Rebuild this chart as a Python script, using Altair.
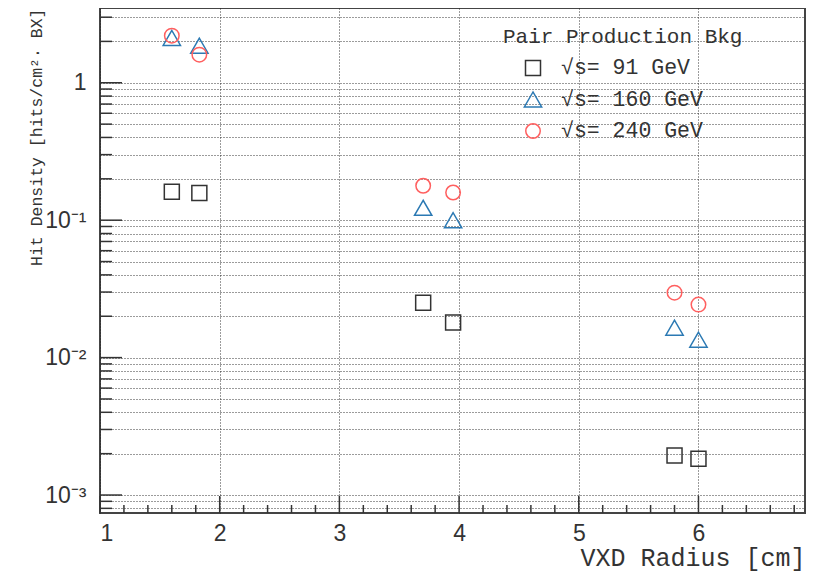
import altair as alt
import pandas as pd

# ---- data ----
radius_cm = [1.6, 1.83, 3.7, 3.95, 5.8, 6.0]
density_91 = [0.161, 0.158, 0.0251, 0.0180, 0.00194, 0.00184]
density_160 = [2.12, 1.86, 0.123, 0.100, 0.0165, 0.0135]
density_240 = [2.20, 1.60, 0.178, 0.159, 0.0297, 0.0243]

series_labels = ["√s= 91 GeV", "√s= 160 GeV", "√s= 240 GeV"]
series_values = [density_91, density_160, density_240]
series_shapes = ["square", "triangle-up", "circle"]
series_colors = ["#333333", "#2b79b3", "#ff5f5f"]
series_sizes = [225, 300, 210]
legend_title = "Pair Production Bkg"

x_title = "VXD Radius [cm]"
y_title = "Hit Density [hits/cm²· BX]"

x_major = [1, 2, 3, 4, 5, 6]
x_minor = [1.2, 1.4, 1.6, 1.8, 2.2, 2.4, 2.6, 2.8, 3.2, 3.4, 3.6, 3.8,
           4.2, 4.4, 4.6, 4.8, 5.2, 5.4, 5.6, 5.8, 6.2, 6.4, 6.6, 6.8]
y_major = [0.001, 0.01, 0.1, 1]
y_minor = [0.0008, 0.0009,
           0.002, 0.003, 0.004, 0.005, 0.006, 0.007, 0.008, 0.009,
           0.02, 0.03, 0.04, 0.05, 0.06, 0.07, 0.08, 0.09,
           0.2, 0.3, 0.4, 0.5, 0.6, 0.7, 0.8, 0.9,
           2, 3]

W, H = 705, 505
xs = alt.Scale(domain=[1, 6.89], nice=False, zero=False)
ys = alt.Scale(type="log", domain=[0.00074, 3.5], nice=False)

GRID = dict(grid=True, gridDash=[1, 2], gridColor="#222222", gridWidth=1, gridOpacity=0.9)

x_axis = alt.Axis(values=x_major, ticks=False, domain=False, format="d",
                  labelFont="Liberation Sans", labelFontSize=23, labelColor="#333333",
                  labelPadding=9,
                  title=x_title, titleFont="Liberation Mono", titleFontSize=25,
                  titleFontWeight="normal", titleColor="#333333",
                  titleAlign="right", titleBaseline="alphabetic",
                  titleX=W, titleY=52, **GRID)

label_expr = ("abs(datum.value-1)<1e-9 ? '1' : abs(datum.value-0.1)<1e-10 ? '10⁻¹' : "
              "abs(datum.value-0.01)<1e-11 ? '10⁻²' : abs(datum.value-0.001)<1e-12 ? '10⁻³' : ''")
y_axis = alt.Axis(values=y_major + y_minor, ticks=False, domain=False,
                  labelExpr=label_expr, labelOverlap=False,
                  labelFont="Liberation Sans", labelFontSize=23, labelColor="#333333",
                  labelPadding=14, labelBaseline="middle",
                  title=y_title, titleFont="Liberation Mono", titleFontSize=16.5,
                  titleFontWeight="normal", titleColor="#333333",
                  titleAngle=270, titleAlign="right", titleBaseline="middle",
                  titleX=-64, titleY=0, **GRID)


def X(field):
    return alt.X(field, scale=xs, axis=x_axis)


def Y(field):
    return alt.Y(field, scale=ys, axis=y_axis)


layers = []
for lab, vals, shp, col, sz in zip(series_labels, series_values,
                                   series_shapes, series_colors, series_sizes):
    df = pd.DataFrame({"r": radius_cm, "d": vals})
    layers.append(alt.Chart(df).mark_point(shape=shp, filled=False, color=col,
                                           size=sz, strokeWidth=1.5, opacity=1)
                  .encode(x=X("r:Q"), y=Y("d:Q")))

# inward tick marks (ROOT style)
tick_color = "#333333"
layers.append(alt.Chart(pd.DataFrame({"v": x_major})).mark_rule(color=tick_color, strokeWidth=1.5)
              .encode(x=X("v:Q"), y=alt.value(H), y2=alt.value(H - 17)))
layers.append(alt.Chart(pd.DataFrame({"v": x_minor})).mark_rule(color=tick_color, strokeWidth=1.5)
              .encode(x=X("v:Q"), y=alt.value(H), y2=alt.value(H - 8)))
layers.append(alt.Chart(pd.DataFrame({"v": y_major})).mark_rule(color=tick_color, strokeWidth=1.5)
              .encode(y=Y("v:Q"), x=alt.value(0), x2=alt.value(22)))
layers.append(alt.Chart(pd.DataFrame({"v": y_minor})).mark_rule(color=tick_color, strokeWidth=1.5)
              .encode(y=Y("v:Q"), x=alt.value(0), x2=alt.value(12)))

# legend (drawn by hand, ROOT TLegend style)
layers.append(alt.Chart(pd.DataFrame({"t": [legend_title]}))
              .mark_text(align="left", baseline="middle", font="Liberation Mono",
                         fontSize=21, color="#333333")
              .encode(x=alt.value(403), y=alt.value(29), text="t:N"))
for i, (lab, shp, col, sz) in enumerate(zip(series_labels, series_shapes, series_colors, series_sizes)):
    ypos = 60 + 31.5 * i
    row = pd.DataFrame({"t": [lab]})
    layers.append(alt.Chart(row).mark_point(shape=shp, filled=False, color=col, size=sz,
                                            strokeWidth=1.5, opacity=1)
                  .encode(x=alt.value(433), y=alt.value(ypos)))
    layers.append(alt.Chart(row).mark_text(align="left", baseline="middle", font="Liberation Mono",
                                           fontSize=21.5, color="#333333")
                  .encode(x=alt.value(461), y=alt.value(ypos), text="t:N"))

chart = (alt.layer(*layers)
         .properties(width=W, height=H, background="white",
                     autosize=alt.AutoSizeParams(type="none"),
                     padding={"left": 92, "top": 0, "right": 4, "bottom": 59})
         .configure_view(stroke="#444444", strokeWidth=2))

chart.save("out.html", embed_options={"renderer": "svg", "actions": False})
